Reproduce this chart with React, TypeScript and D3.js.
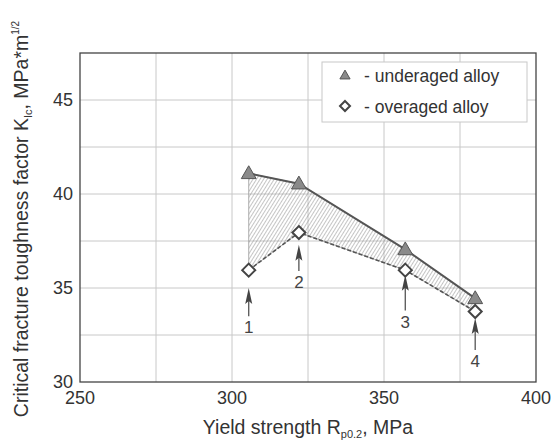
import React from "react";
import * as d3 from "d3";

const yieldStrength = [305.5, 322, 357, 380];
const underaged = [41.1, 40.55, 37.05, 34.45];
const overaged = [35.95, 37.95, 35.95, 33.75];
const pointLabels = ["1", "2", "3", "4"];
// arrow annotations (data units on the y axis)
const arrowTip = [35.0, 37.3, 35.7, 33.4];
const arrowTail = [33.5, 35.9, 33.8, 31.7];
const labelAt = [32.9, 35.3, 33.2, 31.1];
const xTicks = [250, 300, 350, 400];
const yTicks = [30, 35, 40, 45];
const xGrid = [275, 300, 325, 350, 375];
const yGrid = [32.5, 35, 37.5, 40, 42.5, 45];

const W = 552;
const H = 441;
const left = 80;
const right = 536;
const top = 53;
const bottom = 382;

const font = "'Liberation Sans', Arial, Helvetica, sans-serif";
const dark = "#555";
const txt = "#333";

export default function App() {
  const x = d3.scaleLinear().domain([250, 400]).range([left, right]);
  const y = d3.scaleLinear().domain([30, 47.5]).range([bottom, top]);

  const pts = yieldStrength.map((v, i) => ({ x: v, up: underaged[i], lo: overaged[i] }));
  const upLine = d3.line<any>().x((d) => x(d.x)).y((d) => y(d.up));
  const loLine = d3.line<any>().x((d) => x(d.x)).y((d) => y(d.lo));
  const band = d3
    .area<any>()
    .x((d) => x(d.x))
    .y0((d) => y(d.lo))
    .y1((d) => y(d.up));

  const tri = d3.symbol().type(d3.symbolTriangle).size(95)();
  const dia = (s: number) => `M0,${-s}L${s},0L0,${s}L${-s},0Z`;

  return (
    <svg width={W} height={H} style={{ position: "absolute", left: 0, top: 0 }}>
      <defs>
        <pattern id="hatch" width="3" height="3" patternUnits="userSpaceOnUse" patternTransform="rotate(32)">
          <line x1="0" y1="0" x2="0" y2="3" stroke="#8c8c8c" strokeWidth="1" />
        </pattern>
      </defs>
      <rect width={W} height={H} fill="#fff" />

      {xGrid.map((g) => (
        <line key={"xg" + g} x1={x(g)} x2={x(g)} y1={top} y2={bottom} stroke="#c8c8c8" strokeWidth={1} />
      ))}
      {yGrid.map((g) => (
        <line key={"yg" + g} x1={left} x2={right} y1={y(g)} y2={y(g)} stroke="#c8c8c8" strokeWidth={1} />
      ))}
      <rect x={left} y={top} width={right - left} height={bottom - top} fill="none" stroke="#444" strokeWidth={1.3} />

      {xTicks.map((t) => (
        <text key={"xt" + t} x={x(t)} y={bottom + 22} textAnchor="middle" fontFamily={font} fontSize={18} fill={txt}>
          {t}
        </text>
      ))}
      {yTicks.map((t) => (
        <text key={"yt" + t} x={left - 7} y={y(t) + 6} textAnchor="end" fontFamily={font} fontSize={18} fill={txt}>
          {t}
        </text>
      ))}

      <path d={band(pts) || ""} fill="url(#hatch)" stroke="#999" strokeWidth={0.8} />
      <path d={upLine(pts) || ""} fill="none" stroke={dark} strokeWidth={2} />
      <path d={loLine(pts) || ""} fill="none" stroke={dark} strokeWidth={1.6} strokeDasharray="4,2" />

      {pts.map((d, i) => (
        <path key={"t" + i} d={tri || ""} transform={`translate(${x(d.x)},${y(d.up) + 1})`} fill="#8a8a8a" stroke="#555" strokeWidth={1} />
      ))}
      {pts.map((d, i) => (
        <path key={"d" + i} d={dia(6.5)} transform={`translate(${x(d.x)},${y(d.lo)})`} fill="#fff" stroke="#444" strokeWidth={2} />
      ))}

      {pts.map((d, i) => {
        const cx = x(d.x);
        const tip = y(arrowTip[i]);
        const tail = y(arrowTail[i]);
        return (
          <g key={"a" + i}>
            <line x1={cx} x2={cx} y1={tip + 8} y2={tail} stroke="#555" strokeWidth={1.3} />
            <path d={`M${cx},${tip}L${cx + 3.5},${tip + 16}L${cx},${tip + 13}L${cx - 3.5},${tip + 16}Z`} fill="#444" />
            <text x={cx} y={y(labelAt[i]) + 6} textAnchor="middle" fontFamily={font} fontSize={17} fill="#444">
              {pointLabels[i]}
            </text>
          </g>
        );
      })}

      <g>
        <rect x={322} y={62} width={205} height={60} fill="#fff" stroke="#c8c8c8" strokeWidth={1} />
        <path d={d3.symbol().type(d3.symbolTriangle).size(45)() || ""} transform="translate(345,76)" fill="#8a8a8a" stroke="#555" strokeWidth={1} />
        <text x={364} y={82} fontFamily={font} fontSize={17.5} fill={txt}>- underaged alloy</text>
        <path d={dia(5)} transform="translate(345,106)" fill="#fff" stroke="#444" strokeWidth={2} />
        <text x={364} y={113} fontFamily={font} fontSize={17.5} fill={txt}>- overaged alloy</text>
      </g>

      <text x={308} y={434} textAnchor="middle" fontFamily={font} fontSize={19.5} fill={txt}>
        Yield strength R<tspan fontSize={11} dy={4}>p0.2</tspan>
        <tspan dy={-4}>, MPa</tspan>
      </text>
      <text transform="translate(28,219) rotate(-90)" textAnchor="middle" fontFamily={font} fontSize={19.5} fill={txt}>
        Critical fracture toughness factor K<tspan fontSize={11} dy={4}>Ic</tspan>
        <tspan dy={-4}>, MPa*m</tspan>
        <tspan fontSize={10} dy={-9}>1/2</tspan>
      </text>
    </svg>
  );
}
